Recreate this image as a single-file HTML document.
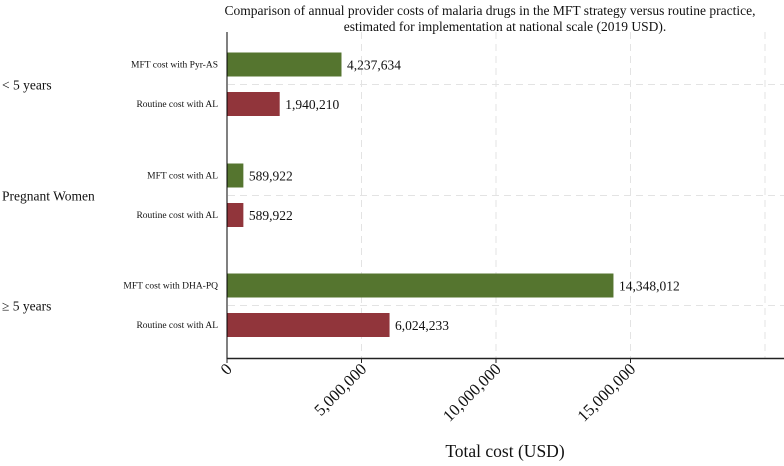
<!DOCTYPE html>
<html><head><meta charset="utf-8"><style>
body{margin:0;background:#fff;width:784px;height:461px;overflow:hidden}
text{font-family:"Liberation Serif",serif;fill:#111}
</style></head><body>
<svg id="chart" width="784" height="461" xmlns="http://www.w3.org/2000/svg">
<text x="490" y="15" font-size="13.5" text-anchor="middle">Comparison of annual provider costs of malaria drugs in the MFT strategy versus routine practice,</text>
<text x="505" y="31" font-size="13.5" text-anchor="middle">estimated for implementation at national scale (2019 USD).</text>
<g id="grid"></g><g id="bars"></g><g id="labels"></g>
<line x1="227" y1="32" x2="227" y2="359" stroke="#000" stroke-width="1"/>
<line x1="227" y1="358.5" x2="784" y2="358.5" stroke="#222" stroke-width="1.5"/>
<text x="505" y="457" font-size="17.5" text-anchor="middle">Total cost (USD)</text>
</svg>
<script>
const groups = ["< 5 years", "Pregnant Women", "≥ 5 years"];
const barLabels = ["MFT cost with Pyr-AS","Routine cost with AL","MFT cost with AL","Routine cost with AL","MFT cost with DHA-PQ","Routine cost with AL"];
const barValues = [4237634, 1940210, 589922, 589922, 14348012, 6024233];
const barGroup = [0,0,1,1,2,2];
const tickValues = [0, 5000000, 10000000, 15000000];
const tickLabels = ["0","5,000,000","10,000,000","15,000,000"];
const gridValues = [5000000, 10000000, 15000000, 20000000];

const NS="http://www.w3.org/2000/svg";
const x0=227, pxPerUnit=26.9/1e6;
const xs=v=>x0+v*pxPerUnit;
const groupCenters=[84.5,195.5,305.5];
const ys=i=>groupCenters[barGroup[i]]+(i%2===0?-20:19.5);
function mk(tag,attrs,parent){const e=document.createElementNS(NS,tag);for(const k in attrs)e.setAttribute(k,attrs[k]);document.getElementById(parent).appendChild(e);return e;}

gridValues.forEach((v,i)=>{
  const l=mk("line",{x1:xs(v),x2:xs(v),y1:32,y2:358,stroke:"#e3e3e3","stroke-dasharray":"7,5"},"grid");
  
  
});
groupCenters.forEach((c,i)=>{
  const l=mk("line",{x1:228,x2:784,y1:c,y2:c,stroke:"#e3e3e3","stroke-dasharray":"7,5"},"grid");
  
  
  const t=mk("text",{x:2,y:c+5,"font-size":13.5},"labels");
  t.textContent=groups[i];
  
  
});
barValues.forEach((v,i)=>{
  const yc=ys(i);
  const r=mk("rect",{x:x0+0.5,y:yc-12,width:xs(v)-x0,height:24,fill:i%2===0?"#55752f":"#91353b"},"bars");
  
  
  const t=mk("text",{x:xs(v)+6,y:yc+5,"font-size":13.5},"labels");
  t.textContent=v.toLocaleString("en-US");
  
  
  const c=mk("text",{x:218,y:yc+3,"font-size":9.5,"text-anchor":"end"},"labels");
  c.textContent=barLabels[i];
  
  
});
tickValues.forEach((v,i)=>{
  const x=xs(v);
  const tk=mk("line",{x1:x,x2:x,y1:358,y2:363,stroke:"#222"},"labels");
  
  
  const t=mk("text",{x:x+6,y:370,"font-size":16.5,"text-anchor":"end",transform:`rotate(-45 ${x+6} 370)`},"labels");
  t.textContent=tickLabels[i];
  
  
});
</script>
</body></html>
